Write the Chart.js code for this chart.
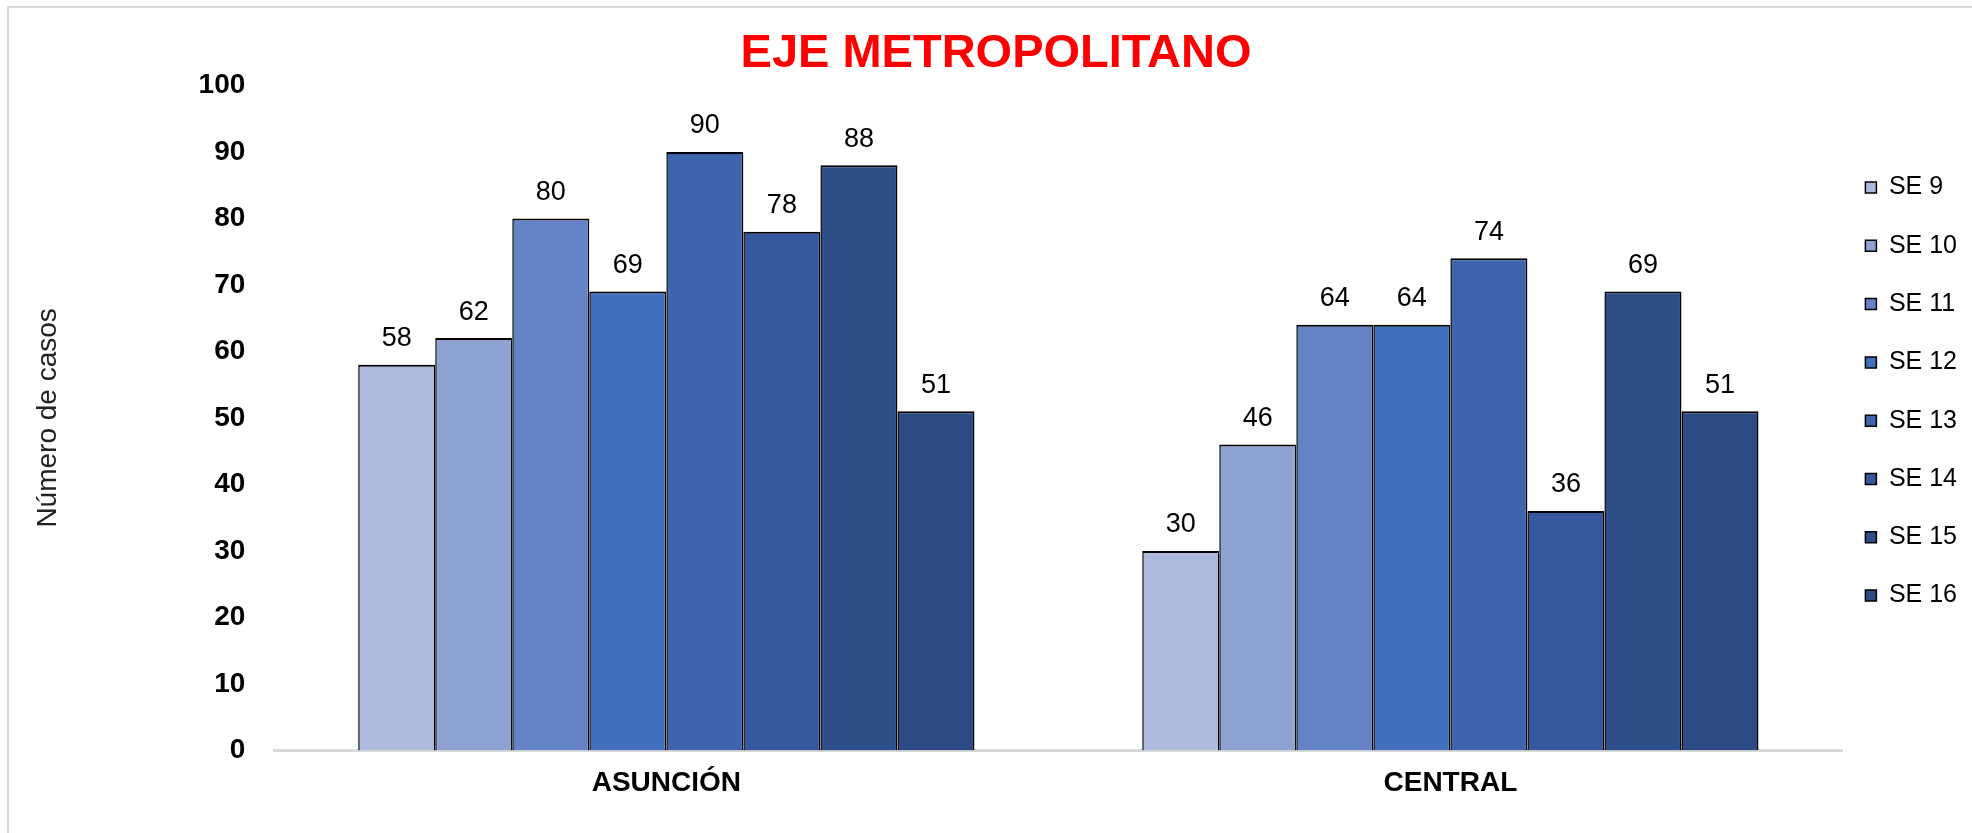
<!DOCTYPE html>
<html>
<head>
<meta charset="utf-8">
<script src="https://cdn.jsdelivr.net/npm/chart.js@4/dist/chart.umd.min.js"></script>
<style>
  html, body { margin: 0; padding: 0; background: #fff; overflow: hidden; }
  #frame { position: absolute; left: 7px; top: 6px; width: 3000px; height: 3000px; border: 2px solid #d9d9d9; }
  #wrap { position: absolute; left: 0; top: 0; width: 1972px; height: 833px; }
</style>
</head>
<body>
<div id="frame"></div>
<div id="wrap"><canvas id="ejeChart"></canvas></div>
<script>
// Data
const categories = ["ASUNCIÓN", "CENTRAL"];
const weeks = ["SE 9", "SE 10", "SE 11", "SE 12", "SE 13", "SE 14", "SE 15", "SE 16"];
const asuncionValues = [58, 62, 80, 69, 90, 78, 88, 51];
const centralValues = [30, 46, 64, 64, 74, 36, 69, 51];
const yMax = 100;
const yStep = 10;

const weekColors = ["#adb9dd", "#8fa3d3", "#6483c7", "#416fbc", "#3d64ad", "#35589f", "#2e4e89", "#2c4b85"];

Chart.defaults.font.family = '"Liberation Sans", Arial, sans-serif';
Chart.defaults.color = "#000";

// one dataset per week, two bars each (one per department)
const datasets = weeks.map((w, i) => ({
    label: w,
    data: [asuncionValues[i], centralValues[i]],
    backgroundColor: weekColors[i],
    borderColor: "#000",
    borderWidth: { top: 2, left: 1.5, right: 1.5, bottom: 0 },
    barPercentage: 1.0,
    categoryPercentage: 0.786
}));

// value labels above every bar
const valueLabels = {
    id: "valueLabels",
    afterDatasetsDraw(chart) {
        const ctx = chart.ctx;
        ctx.save();
        ctx.font = '27px "Liberation Sans", Arial, sans-serif';
        ctx.fillStyle = "#000";
        ctx.textAlign = "center";
        ctx.textBaseline = "middle";
        chart.data.datasets.forEach((ds, i) => {
            chart.getDatasetMeta(i).data.forEach((bar, j) => {
                ctx.fillText(ds.data[j], bar.x, bar.y - 26);
            });
        });
        ctx.restore();
    }
};

new Chart(document.getElementById("ejeChart"), {
    type: "bar",
    data: { labels: categories, datasets: datasets },
    plugins: [valueLabels],
    options: {
        responsive: true,
        maintainAspectRatio: false,
        animation: false,
        layout: { padding: { top: 0, left: 25, right: 5, bottom: 17 } },
        scales: {
            x: {
                grid: { display: false, drawTicks: false },
                border: { display: true, color: "#d9d9d9", width: 3 },
                ticks: { padding: 16, font: { size: 28, weight: "bold" }, color: "#000" }
            },
            y: {
                min: 0,
                max: yMax,
                grid: { display: false, drawTicks: false },
                border: { display: false },
                ticks: { stepSize: yStep, padding: 29, font: { size: 28, weight: "bold" }, color: "#000" },
                title: {
                    display: true,
                    text: "Número de casos",
                    font: { size: 28 },
                    color: "#222",
                    padding: { top: 6, bottom: 105 }
                }
            }
        },
        plugins: {
            title: {
                display: true,
                text: "EJE METROPOLITANO",
                color: "#ff0000",
                font: { size: 47, weight: "bold" },
                padding: { top: 26, bottom: 3 }
            },
            legend: {
                position: "right",
                align: "start",
                title: { display: true, text: " ", font: { size: 10 }, padding: { top: 140, bottom: 0 } },
                labels: {
                    boxWidth: 11,
                    boxHeight: 11,
                    padding: 23,
                    color: "#000",
                    font: { size: 25, lineHeight: 35.3 / 25 },
                    generateLabels(chart) {
                        return chart.data.datasets.map((ds, i) => ({
                            text: [ds.label],
                            fillStyle: ds.backgroundColor,
                            strokeStyle: "#000",
                            lineWidth: 1.5,
                            hidden: false,
                            datasetIndex: i
                        }));
                    }
                }
            },
            tooltip: { enabled: false }
        }
    }
});
</script>
</body>
</html>
